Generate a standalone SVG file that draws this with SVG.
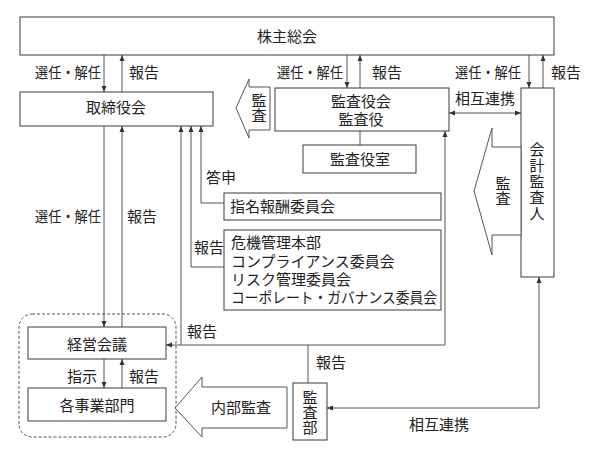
<svg xmlns="http://www.w3.org/2000/svg" width="597" height="449" viewBox="0 0 597 449">
<style>
text{font-family:"Noto Sans CJK JP","Noto Sans CJK SC",sans-serif;font-size:15px;fill:#222}
.m{text-anchor:middle}
.v{writing-mode:vertical-rl;text-orientation:upright;text-anchor:middle}
.box{fill:#fff;stroke:#3a3a3a;stroke-width:1}
.ln{fill:none;stroke:#555;stroke-width:1}
.big{fill:#fff;stroke:#555;stroke-width:1}
</style>
<defs>
<marker id="ah" viewBox="0 0 6 6" refX="6" refY="3" markerWidth="6" markerHeight="6" markerUnits="userSpaceOnUse" orient="auto-start-reverse">
<path d="M0,0.5 L6,3 L0,5.5 z" fill="#333"/>
</marker>
</defs>
<rect width="597" height="449" fill="#fff"/>

<g id="connectors">
<path class="ln" d="M104,55 V92" marker-end="url(#ah)"/>
<path class="ln" d="M122,92 V55" marker-end="url(#ah)"/>
<path class="ln" d="M347,55 V88" marker-end="url(#ah)"/>
<path class="ln" d="M360,88 V55" marker-end="url(#ah)"/>
<path class="ln" d="M529,55 V88" marker-end="url(#ah)"/>
<path class="ln" d="M543,88 V55" marker-end="url(#ah)"/>
<path class="ln" d="M449,113 H521" marker-start="url(#ah)" marker-end="url(#ah)"/>
<path class="ln" d="M360,131 V145"/>
<path class="ln" d="M104,126 V327" marker-end="url(#ah)"/>
<path class="ln" d="M122,327 V126" marker-end="url(#ah)"/>
<path class="ln" d="M104,359 V388" marker-end="url(#ah)"/>
<path class="ln" d="M122,388 V359" marker-end="url(#ah)"/>
<path class="ln" d="M224,203 H201 V126" marker-end="url(#ah)"/>
<path class="ln" d="M224,267 H191 V126" marker-end="url(#ah)"/>
<path class="ln" d="M445,345 H166" marker-end="url(#ah)"/>
<path class="ln" d="M181,345 V126" marker-end="url(#ah)"/>
<path class="ln" d="M445,345 V131" marker-end="url(#ah)"/>
<path class="ln" d="M308,383 V345"/>
<path class="ln" d="M539,277 V408 H327" marker-start="url(#ah)" marker-end="url(#ah)"/>
</g>

<g id="labels">
<text x="35" y="78" textLength="66" lengthAdjust="spacingAndGlyphs">選任・解任</text>
<text x="129" y="78">報告</text>
<text x="277" y="78" textLength="66" lengthAdjust="spacingAndGlyphs">選任・解任</text>
<text x="372" y="78">報告</text>
<text x="455" y="78" textLength="66" lengthAdjust="spacingAndGlyphs">選任・解任</text>
<text x="551" y="78">報告</text>
<text x="455" y="104">相互連携</text>
<text x="206" y="183">答申</text>
<text x="194" y="253">報告</text>
<text x="35" y="222" textLength="66" lengthAdjust="spacingAndGlyphs">選任・解任</text>
<text x="127" y="222">報告</text>
<text x="187" y="337">報告</text>
<text x="67" y="382">指示</text>
<text x="129" y="382">報告</text>
<text x="316" y="368">報告</text>
<text x="409" y="430">相互連携</text>
</g>

<g id="shareholders">
<rect class="box" x="20" y="17" width="534" height="38"/>
<text class="m" x="287" y="42">株主総会</text>
</g>

<g id="board">
<rect class="box" x="20" y="92" width="193" height="34"/>
<text class="m" x="116" y="113">取締役会</text>
</g>

<g id="audit-arrow-board">
<polygon class="big" points="270,87 249,87 249,79 236,108 249,138 249,130 270,130"/>
<text class="v" x="259" y="108">監査</text>
</g>

<g id="kansayaku">
<rect class="box" x="275" y="88" width="174" height="43"/>
<text class="m" x="361" y="107">監査役会<tspan x="361" dy="18">監査役</tspan></text>
</g>

<g id="kansayaku-office">
<rect class="box" x="303" y="145" width="113" height="28"/>
<text class="m" x="360" y="165">監査役室</text>
</g>

<g id="accounting-auditor">
<rect class="box" x="521" y="88" width="33" height="189"/>
<text class="v" x="537" y="182" letter-spacing="1">会計監査人</text>
</g>

<g id="audit-arrow-accounting">
<polygon class="big" points="521,147 492,147 492,128 474,191 492,255 492,235 521,235"/>
<text class="v" x="503" y="191">監査</text>
</g>

<g id="nomination">
<rect class="box" x="224" y="193" width="217" height="27"/>
<text x="230" y="212">指名報酬委員会</text>
</g>

<g id="committees">
<rect class="box" x="224" y="230" width="217" height="80"/>
<text x="231" y="248">危機管理本部<tspan x="231" dy="19">コンプライアンス委員会</tspan><tspan x="231" dy="18">リスク管理委員会</tspan><tspan x="231" dy="18" textLength="206" lengthAdjust="spacingAndGlyphs">コーポレート・ガバナンス委員会</tspan></text>
</g>

<g id="management-group">
<rect x="19" y="314" width="157" height="123" rx="13" ry="13" fill="none" stroke="#555" stroke-width="1" stroke-dasharray="3,2"/>
</g>

<g id="management">
<rect class="box" x="28" y="327" width="138" height="32"/>
<text class="m" x="97" y="350">経営会議</text>
</g>

<g id="divisions">
<rect class="box" x="28" y="388" width="138" height="33"/>
<text class="m" x="97" y="411">各事業部門</text>
</g>

<g id="internal-audit-arrow">
<polygon class="big" points="287,387 202,387 202,377 175,408 202,437 202,428 287,428"/>
<text class="m" x="241" y="413">内部監査</text>
</g>

<g id="audit-dept">
<rect class="box" x="293" y="383" width="34" height="57"/>
<text class="v" x="310" y="412">監査部</text>
</g>
</svg>
